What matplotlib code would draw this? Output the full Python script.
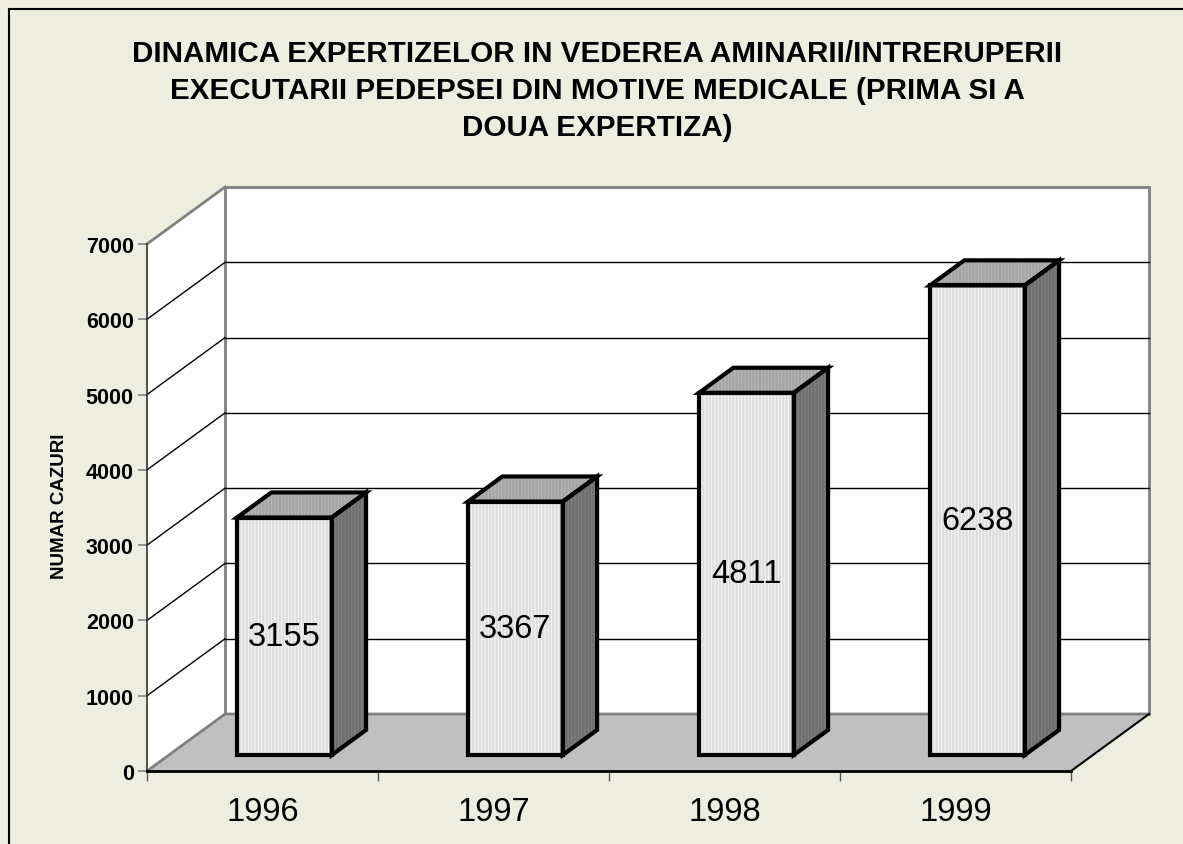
import matplotlib
matplotlib.use("Agg")
import matplotlib.pyplot as plt
from matplotlib.patches import Polygon

plt.rcParams['font.family'] = ['Liberation Sans', 'DejaVu Sans']
plt.rcParams['hatch.linewidth'] = 1.0

# data
years = ['1996', '1997', '1998', '1999']
values = [3155, 3367, 4811, 6238]
y_ticks = [0, 1000, 2000, 3000, 4000, 5000, 6000, 7000]
title = ("DINAMICA EXPERTIZELOR IN VEDEREA AMINARII/INTRERUPERII\n"
         "EXECUTARII PEDEPSEI DIN MOTIVE MEDICALE (PRIMA SI A\n"
         "DOUA EXPERTIZA)")
y_label = "NUMAR CAZURI"

# 3d look: depth offset in data units (categories, value)
DX = 0.338
DY = 757
ymax = 7000
ncat = len(years)
bar_w = 0.41
f_front, f_back = 0.28, 0.72

bg = '#EEEEE0'
fig = plt.figure(figsize=(11.83, 8.45), dpi=100, facecolor=bg)
W, H = 1183, 845
ax = fig.add_axes([147 / W, 73 / H, 924 / W, 527 / H])
ax.set_xlim(0, ncat)
ax.set_ylim(0, ymax)
ax.set_facecolor('none')


def poly(pts, **kw):
    p = Polygon(pts, closed=True, clip_on=False, **kw)
    ax.add_patch(p)
    return p


# walls
poly([(0, 0), (0, ymax), (DX, ymax + DY), (DX, DY)], facecolor='white', edgecolor='none', zorder=1)
poly([(DX, DY), (ncat + DX, DY), (ncat + DX, ymax + DY), (DX, ymax + DY)],
     facecolor='white', edgecolor='#808080', lw=2, zorder=1)
ax.plot([0, DX], [ymax, ymax + DY], color='#808080', lw=2, clip_on=False, zorder=2)

# grid lines
for v in y_ticks[1:-1]:
    ax.plot([DX, ncat + DX], [v + DY, v + DY], color='black', lw=1, clip_on=False, zorder=2)
    ax.plot([0, DX], [v, v + DY], color='black', lw=1, clip_on=False, zorder=2)

# floor
poly([(0, 0), (ncat, 0), (ncat + DX, DY), (DX, DY)], facecolor='#C0C0C0', edgecolor='none', zorder=3)
ax.plot([0, DX, ncat + DX], [0, DY, DY], color='#808080', lw=2, clip_on=False, zorder=3)
ax.plot([ncat, ncat + DX], [0, DY], color='black', lw=1.5, clip_on=False, zorder=3)

# bars
for i, v in enumerate(values):
    xl = i + 0.5 - bar_w / 2
    xr = i + 0.5 + bar_w / 2
    fx, fy = f_front * DX, f_front * DY
    bx, by = f_back * DX, f_back * DY
    side = [(xr + fx, fy), (xr + bx, by), (xr + bx, by + v), (xr + fx, fy + v)]
    top = [(xl + fx, fy + v), (xr + fx, fy + v), (xr + bx, by + v), (xl + bx, by + v)]
    front = [(xl + fx, fy), (xr + fx, fy), (xr + fx, fy + v), (xl + fx, fy + v)]
    for pts, fc, hc in [(side, '#6E6E6E', '#7E7E7E'), (top, '#A4A4A4', '#B4B4B4'),
                        (front, '#DCDCDC', '#F2F2F2')]:
        poly(pts, facecolor=fc, edgecolor=hc, lw=0, hatch='|||||', zorder=5)
        poly(pts, fill=False, edgecolor='black', lw=3, joinstyle='miter', zorder=6)
    ax.text(i + 0.5 + fx, fy + v / 2, str(v), ha='center', va='center',
            fontsize=23.5, color='black', zorder=7)

# axes
for s in ['top', 'right']:
    ax.spines[s].set_visible(False)
ax.spines['left'].set_color('#333333')
ax.spines['left'].set_linewidth(1.2)
ax.spines['bottom'].set_color('black')
ax.spines['bottom'].set_linewidth(2)
ax.spines['left'].set_zorder(4)
ax.spines['bottom'].set_zorder(4)

ax.set_yticks(y_ticks)
ax.set_yticklabels([str(t) for t in y_ticks], fontsize=15.5, fontweight='bold')
ax.tick_params(axis='y', length=6.5, width=1.2, color='#808080', pad=3)

ax.set_xticks(range(ncat + 1))
ax.set_xticklabels([])
ax.tick_params(axis='x', which='major', length=7.5, width=1, color='#555555')
ax.set_xticks([i + 0.5 for i in range(ncat)], labels=years, minor=True)
ax.tick_params(axis='x', which='minor', length=0, pad=18, labelsize=23.5)

fig.text(60 / W, 1 - 506 / H, y_label, rotation=90, ha='center', va='center',
         fontsize=13.5, fontweight='bold')
fig.text(597 / W, 1 - 91 / H, title, ha='center', va='center', fontsize=21.3,
         fontweight='bold', linespacing=1.4)

# outer frame (left and top edges)
fig.add_artist(plt.Line2D([9 / W, 9 / W], [0, 1 - 10 / H], color='black', lw=1.5))
fig.add_artist(plt.Line2D([9 / W, 1], [1 - 10 / H, 1 - 10 / H], color='black', lw=1.5))

fig.savefig('out.png', dpi=100, facecolor=bg)
